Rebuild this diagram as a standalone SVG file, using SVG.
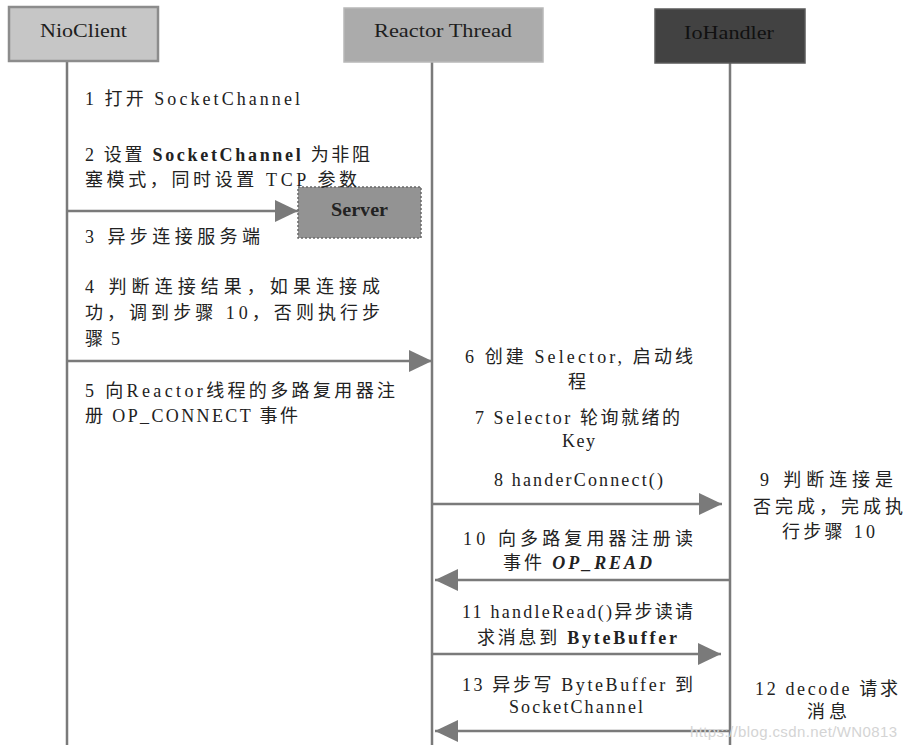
<svg xmlns="http://www.w3.org/2000/svg" width="906" height="745" viewBox="0 0 906 745">
<defs>
<marker id="ah" markerUnits="userSpaceOnUse" markerWidth="24" markerHeight="22" refX="23" refY="11" orient="auto">
<path d="M0,0 L23,11 L0,22 Z" fill="#7a7a7a"/>
</marker>
<style>
.t{font-family:"Liberation Serif","Noto Sans CJK SC",serif;font-size:18px;fill:#222;}
.h{font-family:"Liberation Serif","Noto Sans CJK SC",serif;font-size:19px;fill:#1e1e1e;}
.b{font-weight:bold;}
.bi{font-weight:bold;font-style:italic;}
.life{stroke:#7a7a7a;stroke-width:2.5;fill:none;}
.msg{stroke:#7a7a7a;stroke-width:2.5;fill:none;marker-end:url(#ah);}
.wm{font-family:"Liberation Sans",sans-serif;font-size:15px;fill:#d4d4d4;}
</style>
</defs>
<rect width="906" height="745" fill="#ffffff"/>

<g id="lifelines">
<line class="life" x1="67" y1="61" x2="67" y2="745"/>
<line class="life" x1="432" y1="62" x2="432" y2="745"/>
<line class="life" x1="730" y1="63" x2="730" y2="745"/>
</g>

<g id="node-nioclient">
<rect x="9" y="7" width="149" height="54" fill="#c6c6c6" stroke="#8c8c8c" stroke-width="2.5"/>
<text class="h" x="40" y="37" textLength="87" lengthAdjust="spacingAndGlyphs">NioClient</text>
</g>

<g id="node-reactor">
<rect x="344" y="8" width="199" height="54" fill="#ababab" stroke="#b8b8b8" stroke-width="1.5"/>
<text class="h" x="374" y="37" textLength="138" lengthAdjust="spacingAndGlyphs">Reactor Thread</text>
</g>

<g id="node-iohandler">
<rect x="655" y="9" width="150" height="54" fill="#424242" stroke="#5a5a5a" stroke-width="1.5"/>
<text class="h" x="684" y="39" textLength="90" lengthAdjust="spacingAndGlyphs" fill="#111" style="fill:#111111">IoHandler</text>
</g>

<g id="node-server">
<rect x="298" y="187" width="123" height="51" fill="#939393" stroke="#6a6a6a" stroke-width="1.5" stroke-dasharray="2,2"/>
<text class="t b" x="331" y="216" textLength="57" lengthAdjust="spacingAndGlyphs" style="font-size:18px">Server</text>
</g>

<g id="connectors">
<line class="msg" x1="67" y1="211" x2="298" y2="211"/>
<line class="msg" x1="67" y1="361" x2="432" y2="361"/>
<line class="msg" x1="432" y1="504" x2="722" y2="504"/>
<line class="msg" x1="730" y1="580" x2="435" y2="580"/>
<line class="msg" x1="432" y1="654" x2="721" y2="654"/>
<line class="msg" x1="730" y1="731" x2="435" y2="731"/>
</g>

<g id="labels">
<text class="t" x="85" y="105" textLength="215">1 打开 SocketChannel</text>
<text class="t" x="85" y="161" textLength="285">2 设置 <tspan class="b">SocketChannel</tspan> 为非阻</text>
<text class="t" x="85" y="186" textLength="272">塞模式，同时设置 TCP 参数</text>
<text class="t" x="85" y="243" textLength="175">3 异步连接服务端</text>
<text class="t" x="85" y="293" textLength="295">4 判断连接结果，如果连接成</text>
<text class="t" x="85" y="319" textLength="295">功，调到步骤 10，否则执行步</text>
<text class="t" x="85" y="345" textLength="35">骤 5</text>
<text class="t" x="85" y="397" textLength="310">5 向Reactor线程的多路复用器注</text>
<text class="t" x="85" y="422" textLength="213">册 OP_CONNECT 事件</text>

<text class="t" x="465" y="363" textLength="228">6 创建 Selector, 启动线</text>
<text class="t" x="568" y="388" textLength="19">程</text>
<text class="t" x="475" y="424" textLength="205">7 Selector 轮询就绪的</text>
<text class="t" x="562" y="447" textLength="33">Key</text>
<text class="t" x="494" y="486" textLength="169">8 handerConnect()</text>
<text class="t" x="463" y="545" textLength="230">10 向多路复用器注册读</text>
<text class="t" x="503" y="569" textLength="149">事件 <tspan class="bi">OP_READ</tspan></text>
<text class="t" x="462" y="618" textLength="231">11 handleRead()异步读请</text>
<text class="t" x="477" y="644" textLength="200">求消息到 <tspan class="b">ByteBuffer</tspan></text>
<text class="t" x="462" y="691" textLength="231">13 异步写 ByteBuffer 到</text>
<text class="t" x="509" y="713" textLength="134">SocketChannel</text>

<text class="t" x="760" y="486" textLength="133">9 判断连接是</text>
<text class="t" x="753" y="513" textLength="150">否完成，完成执</text>
<text class="t" x="782" y="538" textLength="93">行步骤 10</text>
<text class="t" x="755" y="695" textLength="143">12 decode 请求</text>
<text class="t" x="807" y="718" textLength="40">消息</text>
</g>

<text class="wm" x="690" y="737" textLength="207">https://blog.csdn.net/WN0813</text>
</svg>
